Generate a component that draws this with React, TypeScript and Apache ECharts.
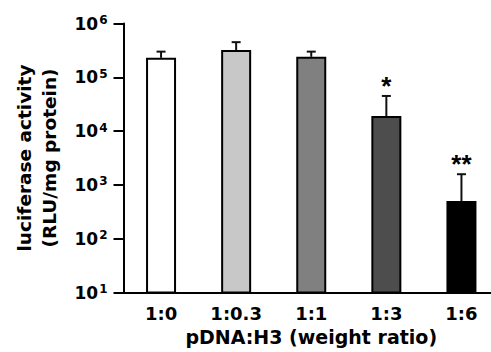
import React, { useEffect, useRef } from "react";
import * as echarts from "echarts";

const categories = ["1:0", "1:0.3", "1:1", "1:3", "1:6"];
const means = [230000, 320000, 240000, 19000, 500];
const errorTops = [300000, 450000, 300000, 45000, 1580];
const significance = ["", "", "", "*", "**"];
const barColors = ["#ffffff", "#c8c8c8", "#808080", "#4d4d4d", "#000000"];

const FONT = "DejaVu Sans, Liberation Sans, Arial, sans-serif";
const STAR_FONT = "Liberation Sans, Arial, sans-serif";

export default function App() {
  const ref = useRef<HTMLDivElement>(null);
  useEffect(() => {
    if (!ref.current) return;
    document.body.style.margin = "0";
    document.body.style.overflow = "hidden";
    const chart = echarts.init(ref.current, undefined, { renderer: "svg" });
    chart.setOption({
      animation: false,
      backgroundColor: "#ffffff",
      grid: {
        left: 123.5,
        right: -8,
        top: 23.5,
        bottom: 59.5,
        containLabel: false,
        outerBoundsMode: "none",
      },
      xAxis: {
        type: "category",
        data: categories,
        axisLine: { lineStyle: { color: "#000", width: 2 } },
        axisTick: { show: false },
        axisLabel: {
          color: "#000",
          fontFamily: FONT,
          fontWeight: "bold",
          fontSize: 18,
          lineHeight: 18,
          margin: 12,
        },
        name: "pDNA:H3 (weight ratio)",
        nameLocation: "middle",
        nameGap: 34.5,
        nameTextStyle: {
          color: "#000",
          fontFamily: FONT,
          fontWeight: "bold",
          fontSize: 19,
          lineHeight: 19,
        },
      },
      yAxis: {
        type: "log",
        logBase: 10,
        min: 10,
        max: 1000000,
        splitLine: { show: false },
        axisLine: { show: true, lineStyle: { color: "#000", width: 2 } },
        axisTick: { show: true, length: 10, lineStyle: { color: "#000", width: 2 } },
        axisLabel: {
          margin: 16,
          formatter: (v: number) => `{b|10}{s|${Math.round(Math.log10(v))}}`,
          rich: {
            b: { fontFamily: FONT, fontWeight: "bold", fontSize: 17, color: "#000", lineHeight: 19 },
            s: {
              fontFamily: FONT,
              fontWeight: "bold",
              fontSize: 12,
              color: "#000",
              verticalAlign: "top",
              lineHeight: 12,
              padding: [0, 0, 7, 1],
            },
          },
        },
        name: "luciferase activity\n(RLU/mg protein)",
        nameLocation: "middle",
        nameRotate: 90,
        nameGap: 62,
        nameTextStyle: {
          color: "#000",
          fontFamily: FONT,
          fontWeight: "bold",
          fontSize: 18.5,
          lineHeight: 25,
        },
      },
      series: [
        {
          type: "bar",
          barWidth: 30,
          data: means.map((v, i) => ({
            value: v,
            itemStyle: { color: barColors[i], borderColor: "#000", borderWidth: 2 },
          })),
        },
        {
          type: "custom",
          data: means.map((m, i) => [i, m, errorTops[i]]),
          encode: { x: 0, y: [1, 2] },
          z: 5,
          renderItem: (params: any, api: any) => {
            const i = api.value(0);
            const base = api.coord([i, api.value(1)]);
            const top = api.coord([i, api.value(2)]);
            const sig = significance[params.dataIndex];
            const children: any[] = [
              {
                type: "line",
                shape: { x1: base[0], y1: base[1], x2: top[0], y2: top[1] },
                style: { stroke: "#111", lineWidth: 2 },
              },
              {
                type: "line",
                shape: { x1: top[0] - 4.5, y1: top[1], x2: top[0] + 4.5, y2: top[1] },
                style: { stroke: "#111", lineWidth: 2 },
              },
            ];
            if (sig) {
              children.push({
                type: "text",
                x: top[0],
                y: top[1] - 10,
                style: {
                  text: sig,
                  fontFamily: STAR_FONT,
                  fontWeight: "bold",
                  fontSize: 26,
                  fill: "#000",
                  align: "center",
                  verticalAlign: "middle",
                },
              });
            }
            return { type: "group", children };
          },
        },
      ],
    });
    return () => chart.dispose();
  }, []);
  return <div ref={ref} style={{ width: 491, height: 352 }} />;
}
